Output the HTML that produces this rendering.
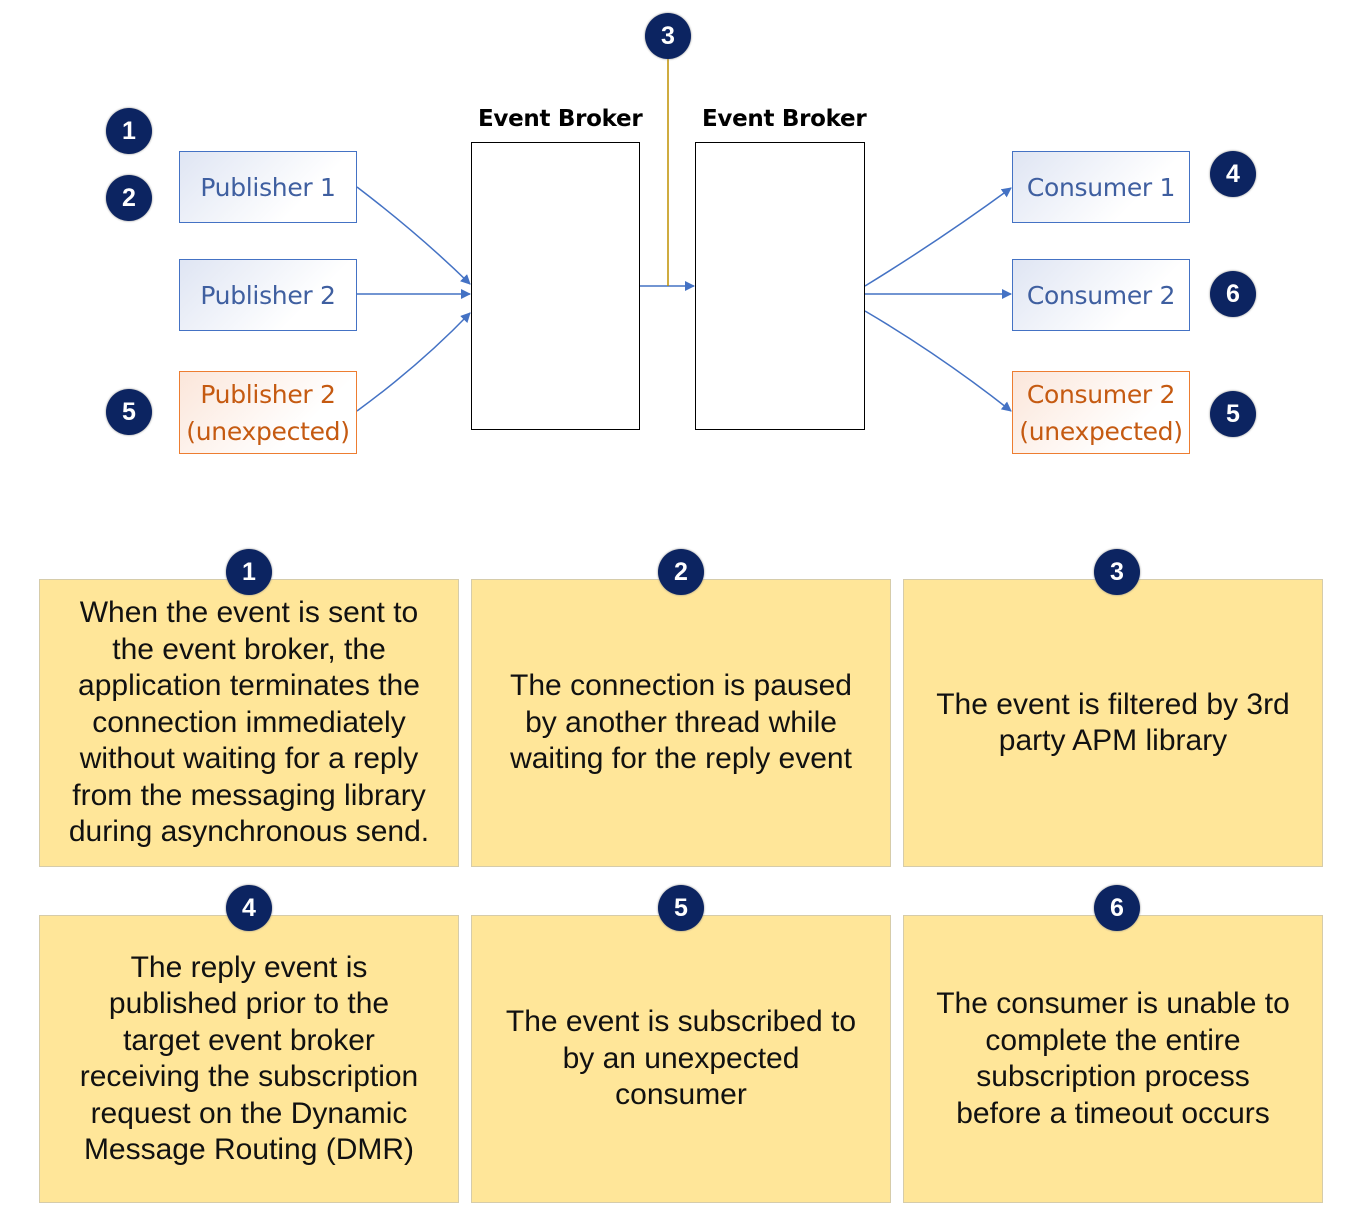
<!DOCTYPE html>
<html><head><meta charset="utf-8"><style>
body{margin:0;width:1352px;height:1227px;background:#fff;position:relative;overflow:hidden;font-family:"Liberation Sans",Arial,sans-serif}
.b{position:absolute;width:46px;height:46px;border-radius:50%;background:#0c2461;color:#fff;font:bold 25px "Liberation Sans",sans-serif;text-align:center;line-height:46px;box-shadow:0 0 2px #888}
.box{position:absolute;width:178px;box-sizing:border-box;display:flex;align-items:center;justify-content:center;text-align:center;font-size:25px;line-height:37px;font-family:"DejaVu Sans","Liberation Sans",sans-serif;letter-spacing:-0.3px}
.bl{border:1.5px solid #4472c4;color:#3f5fa0;background:linear-gradient(135deg,#dfe5f3,#fff 70%);height:72px}
.or{border:1.5px solid #ed7d31;color:#c55a11;background:linear-gradient(135deg,#fbe6da,#fff 70%);height:83px}
.card{position:absolute;width:420px;height:288px;background:#ffe699;border:1.5px solid #d6ccaa;box-sizing:border-box;display:flex;align-items:center;justify-content:center;text-align:center;font-size:30px;line-height:36.5px;color:#111;white-space:nowrap}
.br{position:absolute;border:1.5px solid #000;width:169px;height:288px;box-sizing:border-box;top:142px}
.t{position:absolute;font:bold 23px "DejaVu Sans","Liberation Sans",sans-serif;letter-spacing:-0.3px;top:106px}
</style></head><body>
<svg width="1352" height="500" style="position:absolute;left:0;top:0">
<defs><marker id="a" markerWidth="10" markerHeight="10" refX="9" refY="5" orient="auto" markerUnits="userSpaceOnUse"><path d="M0,0 L10,5 L0,10 z" fill="#4472c4"/></marker></defs>
<g stroke="#4472c4" stroke-width="1.5" fill="none" marker-end="url(#a)">
<path d="M357,187 Q420,235 470,284"/>
<path d="M357,294 L470,294"/>
<path d="M357,411 Q420,365 470,313"/>
<path d="M640,286 L694,286"/>
<path d="M865,286 Q940,240 1011,188"/>
<path d="M865,294 L1011,294"/>
<path d="M865,311 Q940,355 1011,411"/>
</g>
<line x1="668" y1="58" x2="668" y2="286" stroke="#bf9000" stroke-width="1.5"/>
</svg>
<div class="t" style="left:478px">Event Broker</div>
<div class="t" style="left:702px">Event Broker</div>
<div class="br" style="left:471px"></div>
<div class="br" style="left:695px;width:170px"></div>
<div class="box bl" style="left:179px;top:151px">Publisher 1</div>
<div class="box bl" style="left:179px;top:259px">Publisher 2</div>
<div class="box or" style="left:179px;top:371px">Publisher 2<br>(unexpected)</div>
<div class="box bl" style="left:1012px;top:151px">Consumer 1</div>
<div class="box bl" style="left:1012px;top:259px">Consumer 2</div>
<div class="box or" style="left:1012px;top:371px">Consumer 2<br>(unexpected)</div>
<div class="b" style="left:106px;top:108px">1</div>
<div class="b" style="left:106px;top:175px">2</div>
<div class="b" style="left:106px;top:389px">5</div>
<div class="b" style="left:645px;top:13px">3</div>
<div class="b" style="left:1210px;top:151px">4</div>
<div class="b" style="left:1210px;top:271px">6</div>
<div class="b" style="left:1210px;top:391px">5</div>
<div class="card" style="left:39px;top:579px"><div>When the event is sent to<br>the event broker, the<br>application terminates the<br>connection immediately<br>without waiting for a reply<br>from the messaging library<br>during asynchronous send.</div></div>
<div class="card" style="left:471px;top:579px"><div>The connection is paused<br>by another thread while<br>waiting for the reply event</div></div>
<div class="card" style="left:903px;top:579px"><div>The event is filtered by 3rd<br>party APM library</div></div>
<div class="card" style="left:39px;top:915px"><div>The reply event is<br>published prior to the<br>target event broker<br>receiving the subscription<br>request on the Dynamic<br>Message Routing (DMR)</div></div>
<div class="card" style="left:471px;top:915px"><div>The event is subscribed to<br>by an unexpected<br>consumer</div></div>
<div class="card" style="left:903px;top:915px"><div>The consumer is unable to<br>complete the entire<br>subscription process<br>before a timeout occurs</div></div>
<div class="b" style="left:226px;top:549px">1</div>
<div class="b" style="left:658px;top:549px">2</div>
<div class="b" style="left:1094px;top:549px">3</div>
<div class="b" style="left:226px;top:885px">4</div>
<div class="b" style="left:658px;top:885px">5</div>
<div class="b" style="left:1094px;top:885px">6</div>
</body></html>
